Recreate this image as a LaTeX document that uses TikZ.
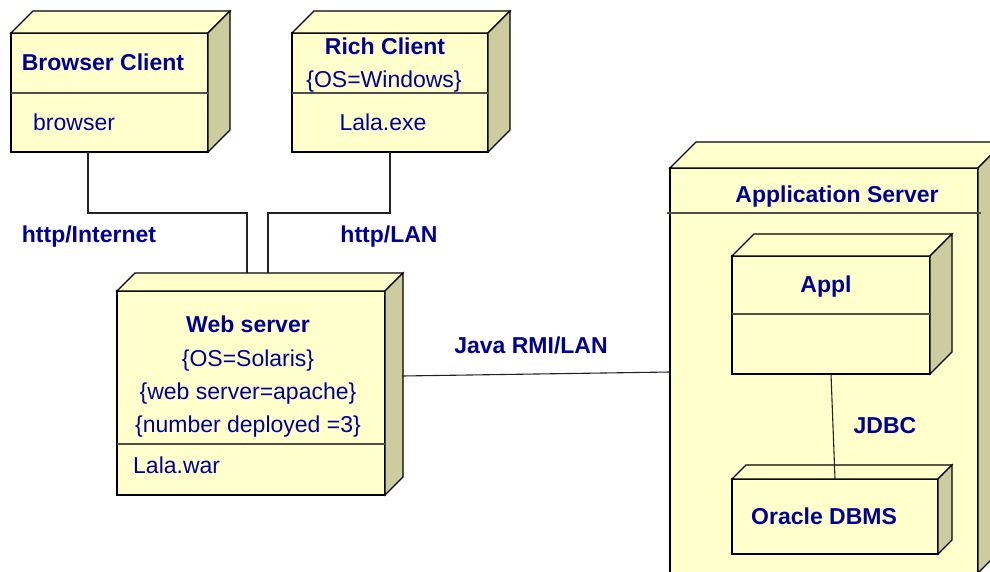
\documentclass[tikz,border=0pt]{standalone}
\usepackage{fontspec}
\setmainfont{Liberation Sans}
\usetikzlibrary{calc}
\definecolor{facecol}{HTML}{FFFFCC}
\definecolor{sidecol}{HTML}{CCCC9F}
\definecolor{txtcol}{HTML}{000099}
\definecolor{linecol}{HTML}{222222}
\newcommand\cubeparts[2]{%
  \filldraw[edge, fill=facecol] (#1.north west) -- ++(#2,-#2) -- ([shift={(#2,-#2)}]#1.north east) -- (#1.north east) -- cycle;
  \filldraw[edge, fill=sidecol] (#1.north east) -- ++(#2,-#2) -- ([shift={(#2,-#2)}]#1.south east) -- (#1.south east) -- cycle;
}
\tikzset{
  edge/.style={draw=black, line width=1.2pt, line join=miter},
  front/.style={edge, fill=facecol, rectangle, inner sep=0pt, outer sep=0pt, anchor=north west},
  divider/.style={draw=linecol!80, line width=1.4pt},
  conn/.style={draw=linecol, line width=1.1pt},
  txt/.style={text=txtcol, inner sep=0pt, font=\fontsize{23}{27}\selectfont, anchor=base},
  btxt/.style={txt, font=\fontsize{23}{27}\selectfont\bfseries},
}
\begin{document}
\begin{tikzpicture}[x=1pt, y=-1pt]
\useasboundingbox (0,0) rectangle (990,571);
\clip (0,0) rectangle (990,571);
\fill[white] (0,0) rectangle (990,571);

% Browser Client
\node[front, minimum width=197pt, minimum height=119pt] (bc) at (11,33) {};
\cubeparts{bc}{22}
\draw[divider] ([shift={(0,60)}]bc.north west) -- ([shift={(0,60)}]bc.north east);
\node[btxt] (bct) at (103,70) {Browser Client};
\node[txt, anchor=base west] (bcb) at (33,130) {browser};

% Rich Client
\node[front, minimum width=196pt, minimum height=119pt] (rc) at (292,33) {};
\cubeparts{rc}{22}
\draw[divider] ([shift={(0,60)}]rc.north west) -- ([shift={(0,60)}]rc.north east);
\node[btxt] (rct) at (385,54) {Rich Client};
\node[txt] (rco) at (384,87) {\{OS=Windows\}};
\node[txt] (rce) at (383,130) {Lala.exe};

% Web server
\node[front, minimum width=268pt, minimum height=204pt] (ws) at (117,291) {};
\cubeparts{ws}{18}
\draw[divider] ([shift={(0,153)}]ws.north west) -- ([shift={(0,153)}]ws.north east);
\node[btxt] (wst) at (248,332) {Web server};
\node[txt] (ws1) at (248,366) {\{OS=Solaris\}};
\node[txt] (ws2) at (248,399) {\{web server=apache\}};
\node[txt] (ws3) at (248,432) {\{number deployed =3\}};
\node[txt, anchor=base west] (ws4) at (133,473) {Lala.war};

% Application Server
\node[front, minimum width=308pt, minimum height=405pt] (as) at (670,168) {};
\cubeparts{as}{26}
\draw[divider] ([shift={(-3,45)}]as.north west) -- ([shift={(3,45)}]as.north east);
\node[btxt] (ast) at (837,202) {Application Server};

% Appl
\node[front, minimum width=198pt, minimum height=118pt] (appl) at (732,256) {};
\cubeparts{appl}{22}
\draw[divider] ([shift={(0,58)}]appl.north west) -- ([shift={(0,58)}]appl.north east);
\node[btxt] (applt) at (826,292) {Appl};

% Oracle DBMS
\node[front, minimum width=206pt, minimum height=75pt] (ora) at (732,479) {};
\cubeparts{ora}{14}
\node[btxt, anchor=base west] (orat) at (751,524) {Oracle DBMS};

% Connectors
\coordinate (wsA) at ([shift={(130,-18)}]ws.north west);
\coordinate (wsB) at ([shift={(151,-18)}]ws.north west);
\draw[conn] ([shift={(77,0)}]bc.south west) |- ([shift={(0,-60)}]wsA) -- (wsA);
\draw[conn] ([shift={(98,0)}]rc.south west) |- ([shift={(0,-60)}]wsB) -- (wsB);
\draw[conn] ([shift={(17,-17)}]ws.east) -- ([shift={(0,1.5)}]as.west);
\draw[conn] (appl.south) -- (ora.north);

% Connector labels
\node[btxt] (l1) at (89,242) {http/Internet};
\node[btxt] (l2) at (389,242) {http/LAN};
\node[btxt] (l3) at (531,353) {Java RMI/LAN};
\node[btxt] (l4) at (885,433) {JDBC};
\end{tikzpicture}
\end{document}
